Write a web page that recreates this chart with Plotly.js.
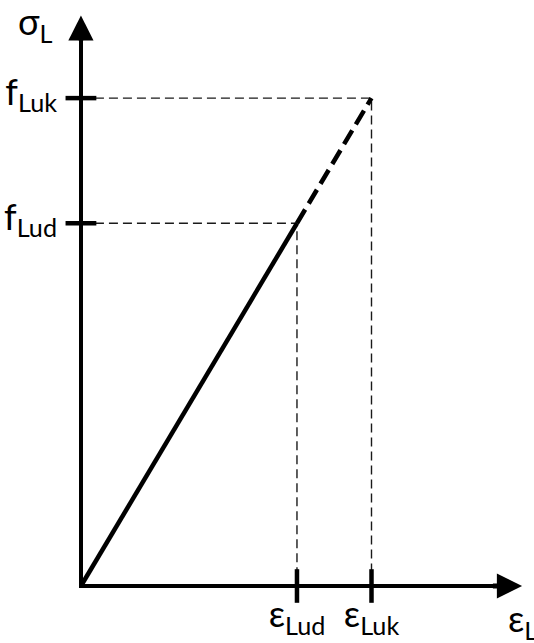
<!DOCTYPE html>
<html>
<head>
<meta charset="utf-8">
<script src="https://cdn.plot.ly/plotly-3.0.1.min.js"></script>
<style>
  html, body { margin: 0; padding: 0; background: #ffffff; }
  #chart { width: 534px; height: 643px; }
</style>
</head>
<body>
<div id="chart"></div>
<script>
// Linear stress-strain law: design point (Lud) and characteristic point (Luk)
const strainNames = ['ε<sub>Lud</sub>', 'ε<sub>Luk</sub>'];
const stressNames = ['f<sub>Lud</sub>', 'f<sub>Luk</sub>'];
const strainValues = [1.0, 1.345];   // ε_Lud, ε_Luk
const stressValues = [1.0, 1.345];   // f_Lud, f_Luk
const xAxisName = 'ε<sub>L</sub>';
const yAxisName = 'σ<sub>L</sub>';

const FONT = 'Lato, "Open Sans", "DejaVu Sans", sans-serif';
const INK = '#000000';
const AXIS_W = 4.8;
const LABEL_SIZE = 36;

// axis extents (arrow tips) in axis units
const xTip = 2.042;
const yTip = 1.573;

const traces = [];

// dashed guide lines from both axes to each point
const gx = [], gy = [];
for (let i = 0; i < strainValues.length; i++) {
  gx.push(0, strainValues[i], strainValues[i], null);
  gy.push(stressValues[i], stressValues[i], 0, null);
}
traces.push({
  type: 'scatter', mode: 'lines', x: gx, y: gy,
  line: { color: '#1a1a1a', width: 1.4, dash: '9px,5px' },
  hoverinfo: 'skip', cliponaxis: false
});

// solid branch up to the design point
traces.push({
  type: 'scatter', mode: 'lines',
  x: [0, strainValues[0]], y: [0, stressValues[0]],
  line: { color: INK, width: 4.5 },
  hoverinfo: 'skip', cliponaxis: false
});

// dashed continuation to the characteristic point
traces.push({
  type: 'scatter', mode: 'lines',
  x: [strainValues[0], strainValues[1]], y: [stressValues[0], stressValues[1]],
  line: { color: INK, width: 4.5, dash: '16px,7px' },
  hoverinfo: 'skip', cliponaxis: false
});

// tick marks crossing the axes
traces.push({
  type: 'scatter', mode: 'markers',
  x: strainValues, y: strainValues.map(() => 0),
  marker: { symbol: 'line-ns', size: 24, color: INK, line: { color: INK, width: 4.5 } },
  hoverinfo: 'skip', cliponaxis: false
});
traces.push({
  type: 'scatter', mode: 'markers',
  x: stressValues.map(() => 0), y: stressValues,
  marker: { symbol: 'line-ew', size: 22, color: INK, line: { color: INK, width: 4.5 } },
  hoverinfo: 'skip', cliponaxis: false
});

const layout = {
  width: 534, height: 643,
  margin: { l: 79, r: 21, t: 31, b: 55, pad: 0 },
  paper_bgcolor: '#ffffff', plot_bgcolor: '#ffffff',
  showlegend: false,
  font: { family: FONT, color: INK, size: LABEL_SIZE },
  xaxis: {
    range: [-0.009, 2.0],
    showgrid: false, showline: false,
    zeroline: true, zerolinecolor: INK, zerolinewidth: AXIS_W,
    ticks: '', tickmode: 'array',
    tickvals: strainValues, ticktext: strainNames,
    tickfont: { family: FONT, size: LABEL_SIZE, color: INK },
    ticklabelstandoff: 2,
    fixedrange: true
  },
  yaxis: {
    range: [-0.0055, 1.53],
    showgrid: false, showline: false,
    zeroline: true, zerolinecolor: INK, zerolinewidth: AXIS_W,
    ticks: '', tickmode: 'array',
    tickvals: stressValues, ticktext: stressNames,
    tickfont: { family: FONT, size: LABEL_SIZE, color: INK },
    ticklabelstandoff: 21,
    ticklabelshift: -6,
    fixedrange: true
  },
  annotations: [
    // arrowheads on both axes
    { x: xTip, y: 0, xref: 'x', yref: 'y', ax: 1.9, ay: 0, axref: 'x', ayref: 'y',
      text: '', showarrow: true, arrowhead: 2, arrowsize: 1.05, arrowwidth: AXIS_W, arrowcolor: INK },
    { x: 0, y: yTip, xref: 'x', yref: 'y', ax: 0, ay: 1.5, axref: 'x', ayref: 'y',
      text: '', showarrow: true, arrowhead: 2, arrowsize: 1.05, arrowwidth: AXIS_W, arrowcolor: INK },
    // axis names
    { x: 1.95, y: 0, xref: 'x', yref: 'y', text: xAxisName, showarrow: false,
      xanchor: 'left', yanchor: 'top', xshift: 4, yshift: -8,
      font: { family: FONT, size: LABEL_SIZE, color: INK } },
    { x: 0, y: 1.5, xref: 'x', yref: 'y', text: yAxisName, showarrow: false,
      xanchor: 'right', yanchor: 'top', xshift: -26, yshift: 45,
      font: { family: FONT, size: LABEL_SIZE, color: INK } }
  ]
};

Plotly.newPlot('chart', traces, layout, { staticPlot: true, displayModeBar: false });
</script>
</body>
</html>
